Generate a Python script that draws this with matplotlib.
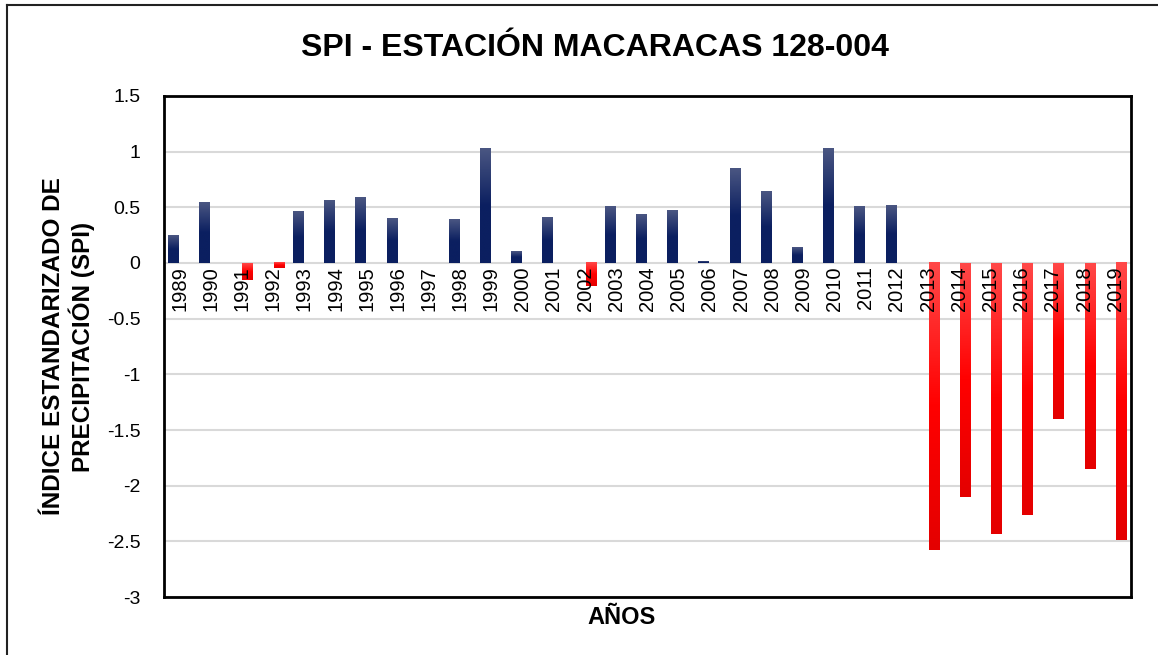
import matplotlib
matplotlib.use('Agg')
import matplotlib.pyplot as plt
import numpy as np
from matplotlib.colors import LinearSegmentedColormap
from matplotlib.lines import Line2D

# SPI values, one per year
years = [str(y) for y in range(1989, 2020)]
spi = [0.25, 0.54, -0.15, -0.045, 0.46, 0.56, 0.59, 0.40, 0.0, 0.39,
       1.03, 0.10, 0.41, -0.21, 0.51, 0.44, 0.47, 0.015, 0.85, 0.64,
       0.14, 1.03, 0.51, 0.52, -2.58, -2.10, -2.43, -2.26, -1.40, -1.85,
       -2.49]
y_ticks = [1.5, 1, 0.5, 0, -0.5, -1, -1.5, -2, -2.5, -3]

TITLE = 'SPI - ESTACIÓN MACARACAS 128-004'
YLABEL = 'ÍNDICE ESTANDARIZADO DE\nPRECIPITACIÓN (SPI)'
XLABEL = 'AÑOS'

plt.rcParams['font.family'] = ['Liberation Sans', 'DejaVu Sans']

fig = plt.figure(figsize=(11.58, 6.55), dpi=100)
ax = fig.add_axes([0.1416, 0.0885, 0.835, 0.765])

x = np.arange(len(years))
pos = [v if v > 0 else 0 for v in spi]
neg = [v if v < 0 else 0 for v in spi]

# two series side by side like the excel clustered bars
bw = 0.35
off = 0.19
bars_pos = ax.bar(x - off, pos, width=bw, color='#0b1f60', zorder=3)
bars_neg = ax.bar(x + off, neg, width=bw, color='#ff0000', zorder=3)

blue_cm = LinearSegmentedColormap.from_list('b', ['#4a5682', '#0b1f60', '#0b1f60'])
red_cm = LinearSegmentedColormap.from_list('r', ['#ff4848', '#ff0000', '#e40000'])
grad = np.linspace(0, 1, 100).reshape(-1, 1)

# gradient fill on top of each bar
for bars, cm in [(bars_pos, blue_cm), (bars_neg, red_cm)]:
    for b in bars:
        h = b.get_height()
        if h == 0:
            continue
        x0 = b.get_x()
        w = b.get_width()
        y0 = min(b.get_y(), b.get_y() + h)
        y1 = max(b.get_y(), b.get_y() + h)
        ax.imshow(grad, extent=[x0, x0 + w, y0, y1], aspect='auto', cmap=cm,
                  origin='upper', zorder=4, interpolation='bilinear')

ax.set_xlim(-0.5, len(years) - 0.5)
ax.set_ylim(-3, 1.5)
ax.set_yticks(y_ticks)
ax.set_yticklabels([('%g' % t) for t in y_ticks], fontsize=14)
ax.tick_params(axis='y', length=0, pad=17)
ax.set_xticks([])
ax.yaxis.grid(True, color='#d9d9d9', linewidth=1.5, zorder=0)
ax.set_axisbelow(True)
for s in ax.spines.values():
    s.set_linewidth(2)
    s.set_color('black')

# year labels sit just under the zero line
for i, yr in enumerate(years):
    ax.text(i, -0.03, yr, rotation=90, ha='center', va='top', fontsize=14.5, zorder=5)

fig.text(0.514, 0.926, TITLE, ha='center', va='center', fontsize=23, fontweight='bold')
fig.text(0.059, 0.471, YLABEL, ha='center', va='center', rotation=90,
         fontsize=17.5, fontweight='bold', linespacing=1.15)
fig.text(0.537, 0.057, XLABEL, ha='center', va='center', fontsize=17, fontweight='bold')

# outer chart frame (only top and left visible)
fig.add_artist(Line2D([7 / 1158, 7 / 1158], [0, 1 - 5 / 655], transform=fig.transFigure,
                      color='#222222', linewidth=1.5))
fig.add_artist(Line2D([7 / 1158, 1], [1 - 5 / 655, 1 - 5 / 655], transform=fig.transFigure,
                      color='#222222', linewidth=1.5))

plt.savefig('out.png', dpi=100)
